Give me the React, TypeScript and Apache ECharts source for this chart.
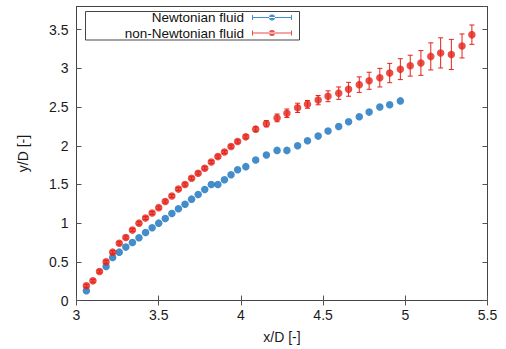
import React, { useEffect, useRef } from "react";
import * as echarts from "echarts";

const newtonianName = "Newtonian fluid";
const nonNewtonianName = "non-Newtonian fluid";

const newtonianX = [
  3.06, 3.18, 3.22, 3.26, 3.3, 3.34, 3.38, 3.42, 3.46, 3.5, 3.54, 3.58, 3.62, 3.66, 3.7, 3.74, 3.78, 3.82, 3.86, 3.9,
  3.94, 3.98, 4.03, 4.09, 4.155, 4.22, 4.28, 4.345, 4.405, 4.47, 4.53, 4.595, 4.655, 4.72, 4.78, 4.845, 4.905, 4.97,
];
const newtonianY = [
  0.125, 0.44, 0.556, 0.625, 0.69, 0.75, 0.81, 0.88, 0.94, 1.0, 1.06, 1.125, 1.185, 1.245, 1.31, 1.37, 1.435, 1.5, 1.5,
  1.56, 1.625, 1.69, 1.73, 1.815, 1.88, 1.94, 1.94, 2.0, 2.065, 2.125, 2.19, 2.25, 2.31, 2.375, 2.435, 2.5, 2.53, 2.58,
];

const nonNewtonianX = [
  3.06, 3.1, 3.14, 3.18, 3.22, 3.26, 3.3, 3.34, 3.38, 3.42, 3.46, 3.5, 3.54, 3.58, 3.62, 3.66, 3.7, 3.74, 3.78, 3.82,
  3.86, 3.9, 3.94, 3.98, 4.03, 4.09, 4.155, 4.22, 4.28, 4.345, 4.405, 4.47, 4.53, 4.595, 4.655, 4.72, 4.78, 4.845,
  4.905, 4.97, 5.03, 5.095, 5.155, 5.215, 5.28, 5.345, 5.405,
];
const nonNewtonianY = [
  0.19, 0.254, 0.375, 0.5, 0.625, 0.74, 0.815, 0.91, 1.0, 1.065, 1.13, 1.2, 1.28, 1.35, 1.44, 1.5, 1.58, 1.645, 1.71,
  1.79, 1.86, 1.92, 1.99, 2.055, 2.115, 2.215, 2.285, 2.36, 2.42, 2.49, 2.535, 2.59, 2.64, 2.68, 2.73, 2.79, 2.84,
  2.88, 2.94, 2.99, 3.035, 3.07, 3.155, 3.2, 3.18, 3.29, 3.436,
];
const nonNewtonianErr = [
  0.02, 0.02, 0.02, 0.02, 0.02, 0.02, 0.02, 0.02, 0.02, 0.02, 0.02, 0.02, 0.02, 0.02, 0.02, 0.02, 0.02, 0.02, 0.02,
  0.02, 0.02, 0.02, 0.02, 0.02, 0.025, 0.03, 0.04, 0.05, 0.055, 0.06, 0.05, 0.06, 0.07, 0.08, 0.09, 0.1, 0.11, 0.12,
  0.125, 0.135, 0.135, 0.16, 0.175, 0.195, 0.195, 0.155, 0.125,
];

const xTitle = "x/D [-]";
const yTitle = "y/D [-]";

const BLUE = "#1470bd";
const RED = "#e52218";
const FONT = "Liberation Sans, Arial, sans-serif";
const AXIS_COLOR = "#444";

const legendIcon =
  "path://M0,2.5h1v5h-1z M39,2.5h1v5h-1z M0,4.6h40v0.8h-40z M17,5a3,3 0 1,0 6,0a3,3 0 1,0 -6,0z";

export default function App() {
  const ref = useRef<HTMLDivElement>(null);

  useEffect(() => {
    if (!ref.current) return;
    const chart = echarts.init(ref.current, null, { renderer: "svg" });

    const blueData = newtonianX.map((x, i) => [x, newtonianY[i]]);
    const redData = nonNewtonianX.map((x, i) => [x, nonNewtonianY[i]]);
    const redErr = nonNewtonianX.map((x, i) => [x, nonNewtonianY[i], nonNewtonianErr[i]]);

    const baseAxisLabel = { fontFamily: FONT, fontSize: 14, color: "#1a1a1a" };
    const legendText = { fontFamily: FONT, fontSize: 13.5, lineHeight: 14, color: "#111", padding: [0, 3, 0, 0] };

    chart.setOption({
      animation: false,
      backgroundColor: "#fff",
      grid: {
        left: 76.5,
        right: 18.5,
        top: 6.5,
        bottom: 48.5,
        show: true,
        borderColor: AXIS_COLOR,
        borderWidth: 1,
      },
      legend: [
        {
          data: [newtonianName],
          right: 214,
          top: 10.5,
          orient: "vertical",
          align: "right",
          padding: 0,
          itemWidth: 40,
          itemHeight: 10,
          icon: legendIcon,
          selectedMode: false,
          textStyle: legendText,
        },
        {
          data: [nonNewtonianName],
          right: 214,
          top: 26,
          orient: "vertical",
          align: "right",
          padding: 0,
          itemWidth: 40,
          itemHeight: 10,
          icon: legendIcon,
          selectedMode: false,
          textStyle: legendText,
        },
      ],
      graphic: [
        {
          type: "rect",
          shape: { x: 85.5, y: 11.5, width: 214, height: 28.5 },
          style: { fill: "none", stroke: AXIS_COLOR, lineWidth: 1 },
          z: 10,
        },
      ],
      xAxis: [
        {
          type: "value",
          min: 3,
          max: 5.5,
          interval: 0.5,
          position: "bottom",
          name: xTitle,
          nameLocation: "middle",
          nameGap: 29,
          nameTextStyle: { fontFamily: FONT, fontSize: 14, color: "#1a1a1a" },
          axisLine: { show: true, lineStyle: { color: AXIS_COLOR, width: 1 } },
          axisTick: { show: true, inside: true, length: 5, lineStyle: { color: "#555" } },
          axisLabel: { ...baseAxisLabel, margin: 7 },
          splitLine: { show: false },
        },
        {
          type: "value",
          min: 3,
          max: 5.5,
          interval: 0.5,
          position: "top",
          axisLine: { show: true, lineStyle: { color: AXIS_COLOR, width: 1 } },
          axisTick: { show: true, inside: true, length: 5, lineStyle: { color: "#555" } },
          axisLabel: { show: false },
          splitLine: { show: false },
        },
      ],
      yAxis: [
        {
          type: "value",
          min: 0,
          max: 3.8,
          interval: 0.5,
          position: "left",
          name: yTitle,
          nameLocation: "middle",
          nameGap: 47,
          nameRotate: 90,
          nameTextStyle: { fontFamily: FONT, fontSize: 14, color: "#1a1a1a" },
          axisLine: { show: true, lineStyle: { color: AXIS_COLOR, width: 1 } },
          axisTick: { show: true, inside: true, length: 5, lineStyle: { color: "#555" } },
          axisLabel: { ...baseAxisLabel, margin: 8, showMaxLabel: false },
          splitLine: { show: false },
        },
        {
          type: "value",
          min: 0,
          max: 3.8,
          interval: 0.5,
          position: "right",
          axisLine: { show: true, lineStyle: { color: AXIS_COLOR, width: 1 } },
          axisTick: { show: true, inside: true, length: 5, lineStyle: { color: "#555" } },
          axisLabel: { show: false },
          splitLine: { show: false },
        },
      ],
      series: [
        {
          name: newtonianName,
          type: "scatter",
          xAxisIndex: 0,
          yAxisIndex: 0,
          data: blueData,
          symbol: "circle",
          symbolSize: 7.5,
          itemStyle: { color: BLUE },
          z: 2,
        },
        {
          name: nonNewtonianName + " error",
          type: "custom",
          xAxisIndex: 0,
          yAxisIndex: 0,
          data: redErr,
          z: 3,
          renderItem: (params: any, api: any) => {
            const x = api.value(0);
            const y = api.value(1);
            const e = api.value(2);
            const lo = api.coord([x, y - e]);
            const hi = api.coord([x, y + e]);
            const cw = 2.5;
            const style = { stroke: RED, lineWidth: 1 };
            return {
              type: "group",
              children: [
                { type: "line", shape: { x1: lo[0], y1: lo[1], x2: hi[0], y2: hi[1] }, style },
                { type: "line", shape: { x1: lo[0] - cw, y1: lo[1], x2: lo[0] + cw, y2: lo[1] }, style },
                { type: "line", shape: { x1: hi[0] - cw, y1: hi[1], x2: hi[0] + cw, y2: hi[1] }, style },
              ],
            };
          },
        },
        {
          name: nonNewtonianName,
          type: "scatter",
          xAxisIndex: 0,
          yAxisIndex: 0,
          data: redData,
          symbol: "circle",
          symbolSize: 7.5,
          itemStyle: { color: RED },
          z: 4,
        },
      ],
    });

    return () => chart.dispose();
  }, []);

  return <div ref={ref} style={{ width: 506, height: 349, position: "absolute", left: 0, top: 0 }} />;
}
